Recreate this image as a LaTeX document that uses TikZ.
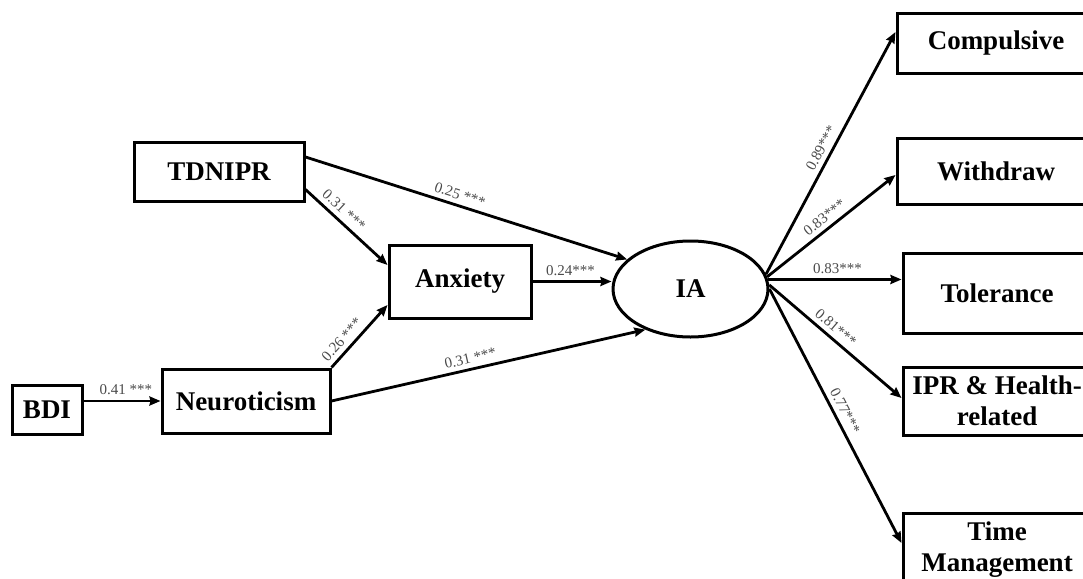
\documentclass[tikz,border=0pt]{standalone}
\usepackage{fontspec}
\setmainfont{Liberation Serif}
\usetikzlibrary{arrows.meta,shapes.geometric}
\definecolor{lblgray}{HTML}{4A4A4A}
\tikzset{
  box/.style={draw=black, line width=3pt, fill=white, inner sep=0pt,
    font=\fontsize{27}{31}\selectfont\bfseries, align=center},
  conn/.style={line width=2.8pt, -{Stealth[length=11pt,width=9pt,inset=1pt]}},
  lbl/.style={font=\fontsize{15}{17}\selectfont, text=lblgray, inner sep=1.5pt, sloped, above=3pt}
}
\begin{document}
\begin{tikzpicture}[x=1pt,y=-1pt]
\useasboundingbox (0,0) rectangle (1083,578);
\begin{scope}
\clip (0,0) rectangle (1083,578);
% nodes
\node[box, minimum width=170pt, minimum height=59pt] (tdn) at (219,171.5) {TDNIPR};
\node[box, minimum width=70pt, minimum height=49pt] (bdi) at (47,409.5) {BDI};
\node[box, minimum width=168pt, minimum height=64pt] (neu) at (246,401) {Neuroticism};
\node[box, minimum width=142pt, minimum height=73pt] (anx) at (460,281.5) {Anxiety};
\node[box, ellipse, minimum width=155pt, minimum height=96pt] (ia) at (690.5,289) {IA};
\node[box, minimum width=198pt, minimum height=59pt] (com) at (996,43.5) {Compulsive};
\node[box, minimum width=198pt, minimum height=66pt] (wit) at (996,171) {Withdraw};
\node[box, minimum width=188pt, minimum height=80pt] (tol) at (997,293) {Tolerance};
\node[box, minimum width=188pt, minimum height=68pt] (ipr) at (997,401) {IPR \& Health-\\related};
\node[box, minimum width=188pt, minimum height=74pt] (tim) at (997,550) {Time\\Management};
% left connectors
\draw[conn] ([yshift=14.5pt]tdn.east) -- node[lbl, pos=0.47] {0.25 ***} (ia.155);
\draw[conn] ([yshift=13pt]tdn.south east) -- node[lbl, pos=0.38] {0.31 ***} ([yshift=16.5pt]anx.west);
\draw[conn] (neu.north east) -- node[lbl, pos=0.33] {0.26 ***} ([yshift=-23.5pt]anx.west);
\draw[conn] (neu.east) -- node[lbl, pos=0.45] {0.31 ***} (ia.222);
\draw[conn] (anx.east) -- node[lbl, pos=0.48] {0.24***} (anx.east -| ia.west);
\draw[conn] (bdi.east |- neu.west) -- node[lbl, pos=0.55] {0.41 ***} (neu.west);
% right connectors
\draw[conn] (ia.11) -- node[lbl, pos=0.5] {0.89***} ([yshift=11.5pt]com.west);
\draw[conn] (ia.9) -- node[lbl, pos=0.5] {0.83***} ([yshift=-4pt]wit.west);
\draw[conn] (ia.7) -- node[lbl, pos=0.52] {0.83***} (ia.7 -| tol.west);
\draw[conn] (ia.3) -- node[lbl, pos=0.45] {0.81***} ([yshift=3pt]ipr.west);
\draw[conn] (ia.0) -- node[lbl, pos=0.5] {0.77***} ([yshift=7pt]tim.west);
\end{scope}
\end{tikzpicture}
\end{document}
